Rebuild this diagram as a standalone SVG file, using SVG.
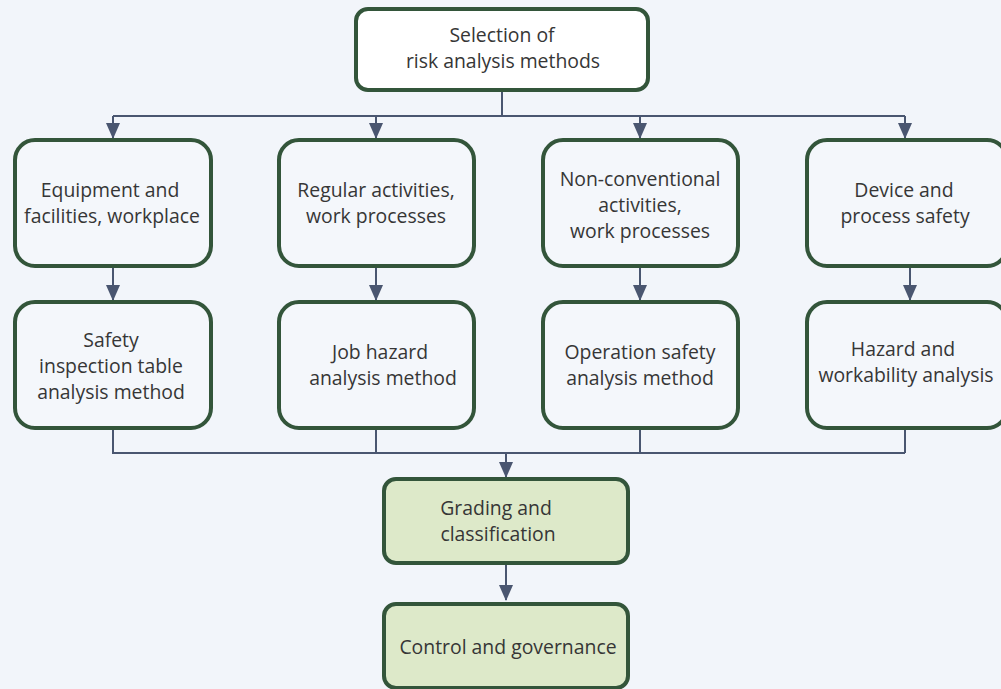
<svg xmlns="http://www.w3.org/2000/svg" width="1001" height="689" viewBox="0 0 1001 689">
  <style>
    .box { fill: #ffffff; stroke: #33553a; stroke-width: 4; }
    .box.white { fill: #f4f7fb; }
    .box.green { fill: #dde9c9; }
    .lbl { font-family: "Open Sans", "Noto Sans", sans-serif; font-size: 19.4px; fill: #363636; text-anchor: middle; }
    .wire { fill: none; stroke: #4a5670; stroke-width: 2; }
  </style>
  <defs>
    <marker id="arrow" viewBox="0 0 16 14" refX="15" refY="7" markerWidth="16" markerHeight="14" markerUnits="userSpaceOnUse" orient="auto">
      <path d="M0,0 L16,7 L0,14 Z" fill="#4a5670"/>
    </marker>
  </defs>
  <rect width="1001" height="689" fill="#f2f5fa"/>

  <g id="connectors">
    <path class="wire" d="M502,92 V116 M113,116 H905"/>
    <path class="wire" d="M113,116 V138" marker-end="url(#arrow)"/>
    <path class="wire" d="M376,116 V138" marker-end="url(#arrow)"/>
    <path class="wire" d="M640,116 V138" marker-end="url(#arrow)"/>
    <path class="wire" d="M905,116 V138" marker-end="url(#arrow)"/>
    <path class="wire" d="M113,268 V300" marker-end="url(#arrow)"/>
    <path class="wire" d="M376,268 V300" marker-end="url(#arrow)"/>
    <path class="wire" d="M640,268 V300" marker-end="url(#arrow)"/>
    <path class="wire" d="M910,268 V300" marker-end="url(#arrow)"/>
    <path class="wire" d="M113,430 V453 H905 M376,430 V453 M640,430 V453 M905,430 V453"/>
    <path class="wire" d="M506,453 V477" marker-end="url(#arrow)"/>
    <path class="wire" d="M506,565 V600" marker-end="url(#arrow)"/>
  </g>

  <g id="selection">
    <rect class="box" x="356" y="9" width="292" height="81" rx="12"/>
    <text class="lbl" x="502" y="42">Selection of</text>
    <text class="lbl" x="503" y="68">risk analysis methods</text>
  </g>

  <g id="equipment">
    <rect class="box white" x="15" y="140" width="196" height="126" rx="20"/>
    <text class="lbl" x="110" y="197">Equipment and</text>
    <text class="lbl" x="112" y="223">facilities, workplace</text>
  </g>
  <g id="regular">
    <rect class="box white" x="279" y="140" width="195" height="126" rx="20"/>
    <text class="lbl" x="376" y="197">Regular activities,</text>
    <text class="lbl" x="376" y="223">work processes</text>
  </g>
  <g id="nonconventional">
    <rect class="box white" x="543" y="140" width="195" height="126" rx="20"/>
    <text class="lbl" x="640" y="186">Non-conventional</text>
    <text class="lbl" x="640" y="212">activities,</text>
    <text class="lbl" x="640" y="238">work processes</text>
  </g>
  <g id="device">
    <rect class="box white" x="807" y="140" width="200" height="126" rx="20"/>
    <text class="lbl" x="904" y="197">Device and</text>
    <text class="lbl" x="905" y="223">process safety</text>
  </g>

  <g id="inspection">
    <rect class="box white" x="15" y="302" width="196" height="126" rx="20"/>
    <text class="lbl" x="111" y="347">Safety</text>
    <text class="lbl" x="111" y="373">inspection table</text>
    <text class="lbl" x="111" y="399">analysis method</text>
  </g>
  <g id="jobhazard">
    <rect class="box white" x="279" y="302" width="195" height="126" rx="20"/>
    <text class="lbl" x="380" y="359">Job hazard</text>
    <text class="lbl" x="383" y="385">analysis method</text>
  </g>
  <g id="operation">
    <rect class="box white" x="543" y="302" width="195" height="126" rx="20"/>
    <text class="lbl" x="640" y="359">Operation safety</text>
    <text class="lbl" x="640" y="385">analysis method</text>
  </g>
  <g id="hazop">
    <rect class="box white" x="807" y="302" width="200" height="126" rx="20"/>
    <text class="lbl" x="903" y="356">Hazard and</text>
    <text class="lbl" x="906" y="382">workability analysis</text>
  </g>

  <g id="grading">
    <rect class="box green" x="384" y="479" width="244" height="84" rx="12"/>
    <text class="lbl" x="496" y="515">Grading and</text>
    <text class="lbl" x="498" y="541">classification</text>
  </g>
  <g id="control">
    <rect class="box green" x="384" y="604" width="244" height="84" rx="12"/>
    <text class="lbl" x="508" y="654">Control and governance</text>
  </g>
</svg>
